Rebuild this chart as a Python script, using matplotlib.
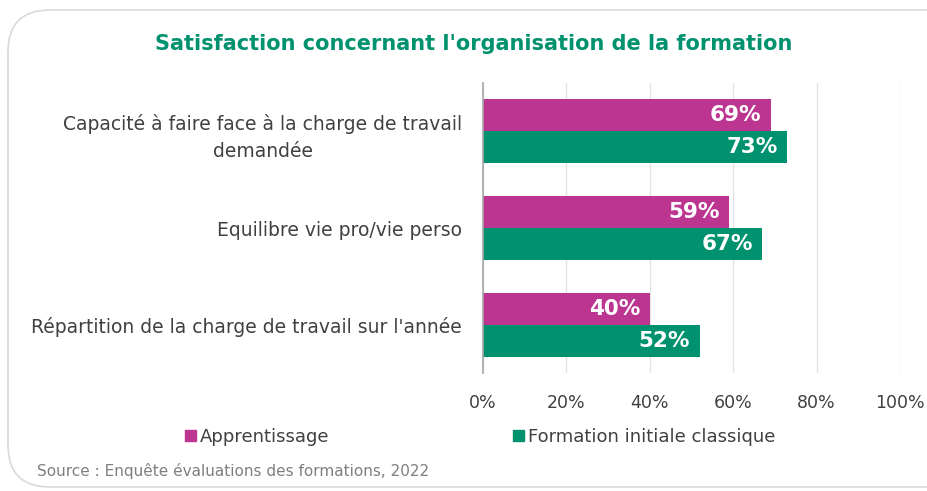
import matplotlib
matplotlib.use('Agg')
import matplotlib.pyplot as plt
from matplotlib.patches import FancyBboxPatch
from matplotlib.patches import Patch
import numpy as np

plt.rcParams['font.family'] = ['DejaVu Sans']

categories = ["Capacité à faire face à la charge de travail\ndemandée",
              "Equilibre vie pro/vie perso",
              "Répartition de la charge de travail sur l'année"]
apprentissage = [69, 59, 40]
classique = [73, 67, 52]
series_names = ['Apprentissage', 'Formation initiale classique']
xticks = [0, 20, 40, 60, 80, 100]

magenta = '#BC3590'
green = '#00916E'
grey_txt = '#404040'

fig = plt.figure(figsize=(9.28, 4.91), dpi=100)

# cadre arrondi
frame = FancyBboxPatch((8 / 928, 4 / 491), 1.2, 477 / 491, boxstyle='round,pad=0,rounding_size=0.045',
                       transform=fig.transFigure, facecolor='none', edgecolor='#D9D9D9',
                       linewidth=1.2, mutation_aspect=928 / 491, zorder=-1)
fig.patches.append(frame)

ax = fig.add_axes([483 / 928, 1 - 373 / 491, 417 / 928, 290 / 491])
y = np.arange(len(categories))
h = 0.33
ax.barh(y - h / 2, apprentissage, height=h, color=magenta)
ax.barh(y + h / 2, classique, height=h, color=green)

for i in range(len(categories)):
    ax.text(apprentissage[i] - 2.3, y[i] - h / 2, f'{apprentissage[i]}%', ha='right', va='center',
            color='white', fontsize=15.5, fontweight='bold')
    ax.text(classique[i] - 2.3, y[i] + h / 2, f'{classique[i]}%', ha='right', va='center',
            color='white', fontsize=15.5, fontweight='bold')

ax.set_ylim(2.5, -0.5)
ax.set_xlim(0, 100)
ax.set_xticks(xticks)
ax.set_xticklabels([f'{t}%' for t in xticks], fontsize=12.5, color=grey_txt)
ax.set_yticks(y)
ax.set_yticklabels(categories, fontsize=13.5, color=grey_txt, ha='right', multialignment='center',
                   linespacing=1.55)
ax.tick_params(length=0, pad=15, axis='y')
ax.tick_params(length=0, pad=15, axis='x')
ax.grid(axis='x', color='#E3E3E3', linewidth=1)
ax.set_axisbelow(True)
for s in ['top', 'right', 'bottom']:
    ax.spines[s].set_visible(False)
ax.spines['left'].set_color('#A6A6A6')
ax.spines['left'].set_linewidth(1.2)

fig.text(474 / 928, 1 - 44 / 491, "Satisfaction concernant l'organisation de la formation", ha='center',
         va='center', color=green, fontsize=15, fontweight='bold')

handles = [Patch(color=magenta), Patch(color=green)]
fig.legend(handles, series_names, loc='center', bbox_to_anchor=(480 / 928, 1 - 437 / 491), ncol=2, frameon=False,
           fontsize=13, handlelength=0.6, handleheight=0.6, handletextpad=0.2, columnspacing=10.2,
           labelcolor=grey_txt)

fig.text(37 / 928, 1 - 471 / 491, 'Source : Enquête évaluations des formations, 2022', ha='left', va='center',
         color='#7F7F7F', fontsize=11)

plt.savefig('out.png', dpi=100)
